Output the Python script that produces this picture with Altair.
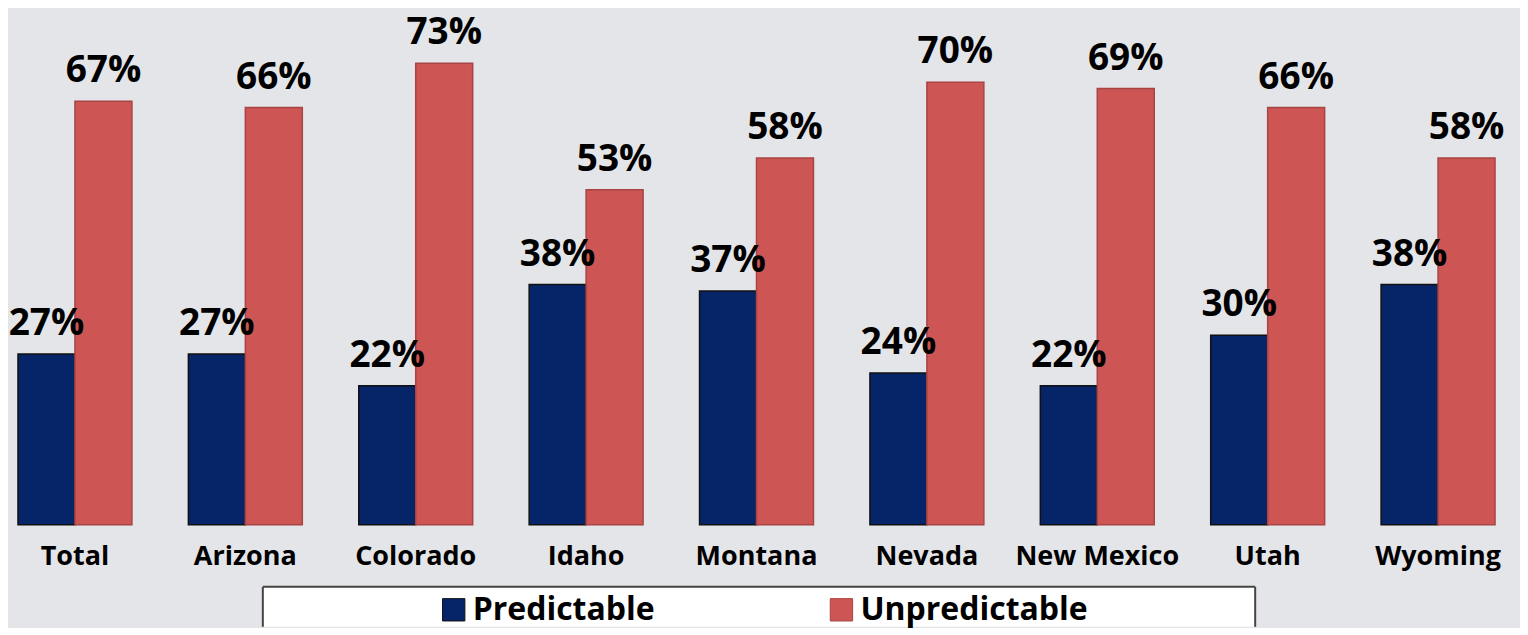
import altair as alt
import pandas as pd

categories = ["Total", "Arizona", "Colorado", "Idaho", "Montana", "Nevada", "New Mexico", "Utah", "Wyoming"]
predictable = [27, 27, 22, 38, 37, 24, 22, 30, 38]
unpredictable = [67, 66, 73, 53, 58, 70, 69, 66, 58]
series = ["Predictable", "Unpredictable"]
colors = ["#062468", "#cd5554"]

rows = []
for c, p, u in zip(categories, predictable, unpredictable):
    rows.append({"cat": c, "series": series[0], "value": p, "label": f"{p}%"})
    rows.append({"cat": c, "series": series[1], "value": u, "label": f"{u}%"})
df = pd.DataFrame(rows)
cat_df = pd.DataFrame({"cat": categories})

FONT = "Open Sans"
W, H = 1512, 517

x_scale = alt.Scale(domain=categories, range=[-19.25, 1515.25], paddingInner=0, paddingOuter=0)
x_enc = alt.X("cat:N", sort=categories, title=None, scale=x_scale, axis=None)
xo_enc = alt.XOffset("series:N", sort=series,
                     scale=alt.Scale(domain=series, paddingInner=0, paddingOuter=0.4956))
y_enc = alt.Y("value:Q", scale=alt.Scale(domain=[0, 81.7], nice=False, zero=True), axis=None)

one = pd.DataFrame({"a": [0]})
BOX_BOTTOM = 619
box = alt.Chart(one).mark_rect(fill="white", strokeWidth=0).encode(
    x=alt.value(254), x2=alt.value(1247), y=alt.value(579), y2=alt.value(BOX_BOTTOM))
edge_top = alt.Chart(one).mark_rule(color="#444444", strokeWidth=2).encode(
    x=alt.value(254), x2=alt.value(1247), y=alt.value(579))
edge_left = alt.Chart(one).mark_rule(color="#444444", strokeWidth=2).encode(
    x=alt.value(254), y=alt.value(579), y2=alt.value(BOX_BOTTOM))
edge_right = alt.Chart(one).mark_rule(color="#444444", strokeWidth=2).encode(
    x=alt.value(1247), y=alt.value(579), y2=alt.value(BOX_BOTTOM))

bars = alt.Chart(df).mark_bar(strokeWidth=1.5).encode(
    x=x_enc, xOffset=xo_enc, y=y_enc,
    color=alt.Color("series:N", sort=series,
                    scale=alt.Scale(domain=series, range=colors),
                    legend=alt.Legend(title=None, orient="none", legendX=429, legendY=586,
                                      direction="horizontal", symbolType="square",
                                      symbolSize=500, symbolStrokeColor="#222222",
                                      symbolStrokeWidth=1, labelFont=FONT,
                                      labelFontWeight="bold", labelFontSize=32,
                                      labelColor="black", columnPadding=170,
                                      labelOffset=3, labelLimit=400, padding=0)),
    stroke=alt.Stroke("series:N", sort=series,
                      scale=alt.Scale(domain=series, range=["#111111", "#a84444"]),
                      legend=None),
)

labels = alt.Chart(df).mark_text(
    font=FONT, fontWeight="bold", fontSize=37, color="black",
    baseline="alphabetic", dy=-19
).encode(x=x_enc, xOffset=xo_enc, y=y_enc, text="label:N")

cat_labels = alt.Chart(cat_df).mark_text(
    font=FONT, fontWeight="bold", fontSize=27, color="black", baseline="alphabetic"
).encode(x=x_enc, y=alt.value(557), text="cat:N")

chart = alt.layer(box, edge_top, edge_left, edge_right, bars, labels, cat_labels).properties(
    width=W, height=H, background="#e4e5e8", padding=0
).configure_view(stroke=None)

chart.save("out.html", embed_options={"renderer": "svg", "actions": False})
